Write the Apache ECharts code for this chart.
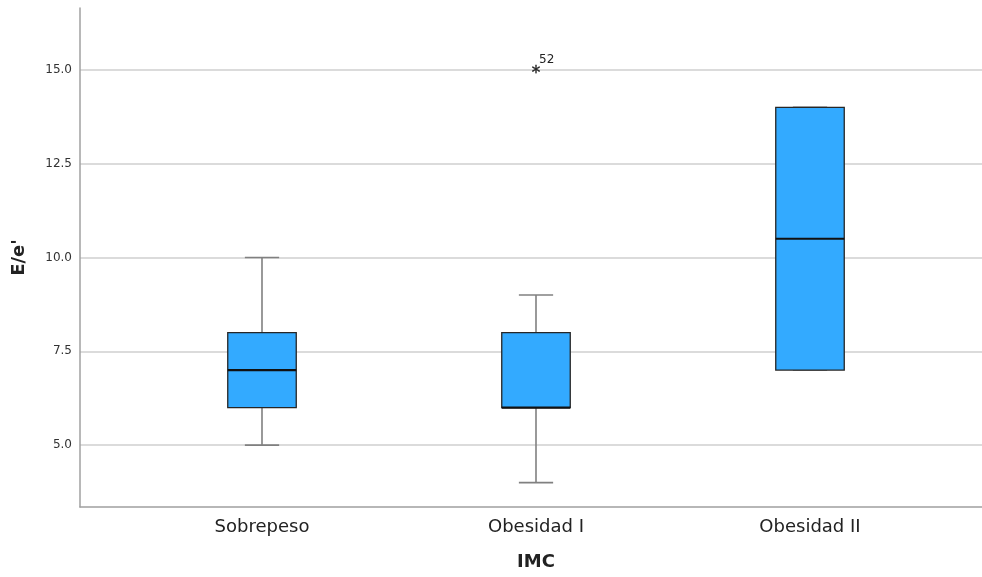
<!DOCTYPE html>
<html>
<head>
<meta charset="utf-8">
<script src="https://cdn.jsdelivr.net/npm/echarts@6/dist/echarts.min.js"></script>
<style>html,body{margin:0;padding:0;background:#fff}#c{width:982px;height:577px}</style>
</head>
<body>
<div id="c"></div>
<script>
const categories = ['Sobrepeso', 'Obesidad I', 'Obesidad II'];
const whiskerLow = [5, 4, 7];
const q1 = [6, 6, 7];
const median = [7, 6, 10.5];
const q3 = [8, 8, 14];
const whiskerHigh = [10, 9, 14];
const outlierCat = [1];
const outlierVal = [15];
const outlierId = ['52'];
const yTicks = [5, 7.5, 10, 12.5, 15];
const yMin = 3.35, yMax = 16.65;

const boxData = categories.map((c, i) => [i, whiskerLow[i], q1[i], median[i], q3[i], whiskerHigh[i]]);
const outData = outlierCat.map((c, i) => ({value: [c, outlierVal[i]], name: outlierId[i]}));

const chart = echarts.init(document.getElementById('c'));
chart.setOption({
  animation: false,
  backgroundColor: '#fff',
  textStyle: {fontFamily: 'DejaVu Sans'},
  grid: [
    {left: 80, right: 0, top: 8, bottom: 70},
    {left: 125, right: 35, top: 8, bottom: 70}
  ],
  xAxis: [
    {type: 'value', gridIndex: 0, min: 0, max: 1,
     axisLine: {show: true, onZero: false, lineStyle: {color: '#a0a0a0', width: 1.5}},
     axisTick: {show: false}, axisLabel: {show: false}, splitLine: {show: false}},
    {type: 'category', gridIndex: 1, data: categories,
     axisLine: {show: false}, axisTick: {show: false}, splitLine: {show: false},
     axisLabel: {fontSize: 18, color: '#222', margin: 11, fontFamily: 'DejaVu Sans'},
     name: 'IMC', nameLocation: 'middle', nameGap: 46,
     nameTextStyle: {fontSize: 18, fontWeight: 'bold', color: '#222', fontFamily: 'DejaVu Sans'}}
  ],
  yAxis: [
    {type: 'value', gridIndex: 0, min: yMin, max: yMax,
     axisLine: {show: true, lineStyle: {color: '#a0a0a0', width: 1.5}},
     axisTick: {show: false, customValues: yTicks},
     axisLabel: {customValues: yTicks, formatter: v => v.toFixed(1), fontSize: 12, color: '#333', margin: 8},
     splitLine: {show: true, lineStyle: {color: '#cfcfcf', width: 1.5}},
     name: "E/e'", nameLocation: 'middle', nameGap: 52, nameRotate: 90,
     nameTextStyle: {fontSize: 18, fontWeight: 'bold', color: '#222'}},
    {type: 'value', gridIndex: 1, min: yMin, max: yMax, show: false, splitLine: {show: false}}
  ],
  series: [
    {
      type: 'custom', xAxisIndex: 1, yAxisIndex: 1,
      data: boxData,
      encode: {x: 0, y: [1, 2, 3, 4, 5]},
      renderItem: function (params, api) {
        const i = api.value(0);
        const band = api.size([1, 0])[0];
        const x = api.coord([i, 0])[0];
        const yl = api.coord([i, api.value(1)])[1];
        const y1 = api.coord([i, api.value(2)])[1];
        const ym = api.coord([i, api.value(3)])[1];
        const y3 = api.coord([i, api.value(4)])[1];
        const yh = api.coord([i, api.value(5)])[1];
        const bw = band * 0.25, cw = band * 0.125;
        const wStyle = {stroke: '#808080', lineWidth: 1.6};
        return {
          type: 'group',
          children: [
            {type: 'line', shape: {x1: x, y1: yl, x2: x, y2: y1}, style: wStyle},
            {type: 'line', shape: {x1: x, y1: y3, x2: x, y2: yh}, style: wStyle},
            {type: 'line', shape: {x1: x - cw / 2, y1: yl, x2: x + cw / 2, y2: yl}, style: wStyle},
            {type: 'line', shape: {x1: x - cw / 2, y1: yh, x2: x + cw / 2, y2: yh}, style: wStyle},
            {type: 'rect', shape: {x: x - bw / 2, y: y3, width: bw, height: y1 - y3},
             style: {fill: '#33aaff', stroke: '#262626', lineWidth: 1.3}},
            {type: 'line', shape: {x1: x - bw / 2, y1: ym, x2: x + bw / 2, y2: ym},
             style: {stroke: '#111', lineWidth: 2.2}}
          ]
        };
      }
    },
    {
      type: 'custom', xAxisIndex: 1, yAxisIndex: 1,
      data: outData,
      renderItem: function (params, api) {
        const p = api.coord([api.value(0), api.value(1)]);
        return {
          type: 'group',
          children: [
            {type: 'text', x: p[0], y: p[1] + 4,
             style: {text: '*', fontSize: 17, fontFamily: 'DejaVu Sans', fill: '#222',
                     align: 'center', verticalAlign: 'middle', stroke: '#222', lineWidth: 0.4}},
            {type: 'text', x: p[0] + 3, y: p[1] - 10,
             style: {text: outData[params.dataIndex].name, fontSize: 12, fontFamily: 'DejaVu Sans',
                     fill: '#222', align: 'left', verticalAlign: 'middle'}}
          ]
        };
      }
    }
  ]
});
</script>
</body>
</html>
